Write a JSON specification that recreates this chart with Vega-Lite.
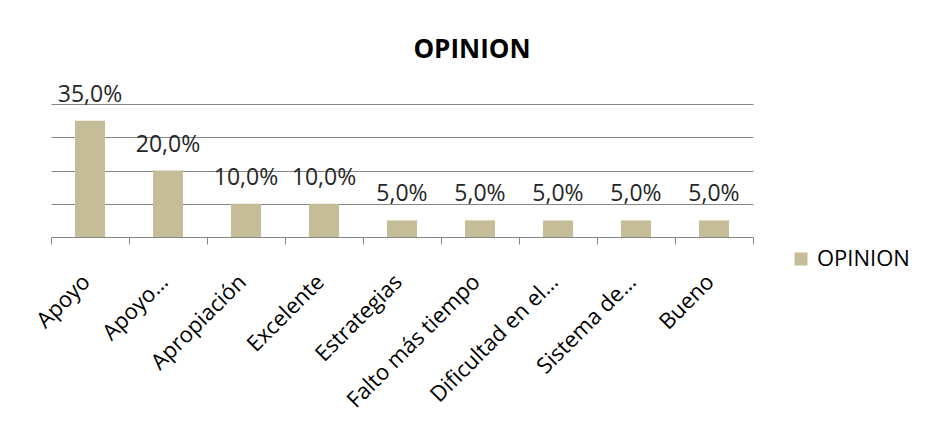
{
  "$schema": "https://vega.github.io/schema/vega-lite/v6.json",
  "width": 702,
  "height": 133,
  "autosize": "none",
  "padding": {"left": 51, "top": 104, "right": 173, "bottom": 204},
  "background": "white",
  "config": {
    "view": {"stroke": null},
    "locale": {"number": {"decimal": ",", "thousands": ".", "grouping": [3], "currency": ["", " €"]}}
  },
  "title": {
    "text": "OPINION",
    "font": "Open Sans",
    "fontSize": 26,
    "fontWeight": "bold",
    "color": "black",
    "anchor": "middle",
    "dx": 70,
    "offset": 0,
    "baseline": "alphabetic"
  },
  "data": {
    "values": [
      {"categoria": "Apoyo", "valor": 0.35, "serie": "OPINION"},
      {"categoria": "Apoyo…", "valor": 0.20, "serie": "OPINION"},
      {"categoria": "Apropiación", "valor": 0.10, "serie": "OPINION"},
      {"categoria": "Excelente", "valor": 0.10, "serie": "OPINION"},
      {"categoria": "Estrategias", "valor": 0.05, "serie": "OPINION"},
      {"categoria": "Falto más tiempo", "valor": 0.05, "serie": "OPINION"},
      {"categoria": "Dificultad en el…", "valor": 0.05, "serie": "OPINION"},
      {"categoria": "Sistema de…", "valor": 0.05, "serie": "OPINION"},
      {"categoria": "Bueno", "valor": 0.05, "serie": "OPINION"}
    ]
  },
  "encoding": {
    "x": {
      "field": "categoria",
      "type": "nominal",
      "sort": null,
      "scale": {"paddingInner": 0, "paddingOuter": 0},
      "axis": {
        "title": null,
        "labelAngle": -45,
        "labelAlign": "right",
        "labelBaseline": "middle",
        "labelFont": "Open Sans",
        "labelFontSize": 22,
        "labelColor": "black",
        "labelPadding": 34,
        "labelOffset": -4,
        "labelLimit": 0,
        "tickBand": "extent",
        "tickSize": 7,
        "tickColor": "#868686",
        "domainColor": "#868686",
        "grid": false
      }
    },
    "y": {
      "field": "valor",
      "type": "quantitative",
      "scale": {"domain": [0, 0.4]},
      "axis": {
        "title": null,
        "labels": false,
        "ticks": false,
        "domain": false,
        "grid": true,
        "gridColor": "#868686",
        "values": [0.1, 0.2, 0.3, 0.4]
      }
    }
  },
  "layer": [
    {
      "mark": {"type": "bar", "width": {"band": 0.385}},
      "encoding": {
        "color": {
          "field": "serie",
          "type": "nominal",
          "scale": {"range": ["#C4BD97"]},
          "legend": {
            "title": null,
            "orient": "none",
            "legendX": 739,
            "legendY": 144,
            "symbolType": "square",
            "symbolSize": 169,
            "symbolStrokeWidth": 0,
            "labelFont": "Open Sans",
            "labelFontSize": 22,
            "labelColor": "black",
            "labelOffset": 5
          }
        }
      }
    },
    {
      "mark": {
        "type": "text",
        "dy": -19,
        "baseline": "alphabetic",
        "font": "Open Sans",
        "fontSize": 23,
        "color": "#262626"
      },
      "encoding": {
        "text": {"field": "valor", "type": "quantitative", "format": ".1%"}
      }
    }
  ]
}
